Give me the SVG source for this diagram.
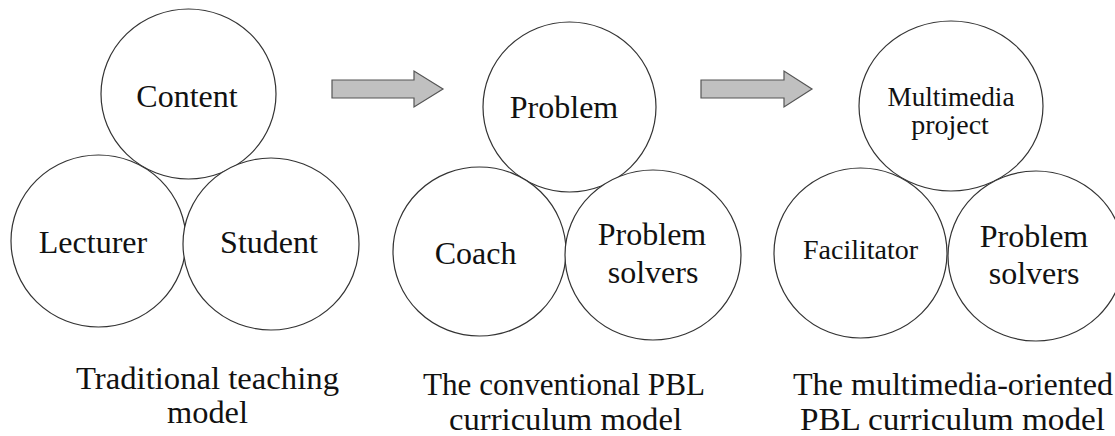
<svg xmlns="http://www.w3.org/2000/svg" width="1115" height="436" viewBox="0 0 1115 436">
<style>
.c{fill:#fff;stroke:#333;stroke-width:1.2}
.t{font-size:32px;fill:#111;text-anchor:middle}
.s{font-size:28px}
.l{font-size:31px;fill:#111}
.a{fill:#c0c0c0;stroke:#555;stroke-width:1.2}
</style>
<rect width="1115" height="436" fill="#fff"/>
<g id="connectors">
<path class="a" d="M332,80 H414 V71 L443,89 L414,107 V98 H332 Z"/>
<path class="a" d="M701,80 H784 V71 L812,89 L784,107 V98 H701 Z"/>
</g>
<g font-family="'Liberation Serif', 'Times New Roman', serif">
<g id="content"><ellipse class="c" cx="188.5" cy="94" rx="87.5" ry="85"/><text class="t" x="187" y="107">Content</text></g>
<g id="lecturer"><ellipse class="c" cx="98.5" cy="241" rx="87.5" ry="86"/><text class="t" x="93" y="253">Lecturer</text></g>
<g id="student"><ellipse class="c" cx="271" cy="244" rx="88" ry="86"/><text class="t" x="269" y="253">Student</text></g>
<g id="problem"><ellipse class="c" cx="569.5" cy="107" rx="86.5" ry="85"/><text class="t" x="564" y="118">Problem</text></g>
<g id="coach"><ellipse class="c" cx="479.5" cy="251.5" rx="86.5" ry="84.5"/><text class="t" x="475.5" y="264">Coach</text></g>
<g id="solvers2"><ellipse class="c" cx="653" cy="255" rx="88" ry="85"/><text class="t" x="652" y="245">Problem</text><text class="t" x="653" y="283">solvers</text></g>
<g id="multimedia"><ellipse class="c" cx="951" cy="106" rx="92" ry="85"/><text class="t s" x="951" y="106" textLength="127" lengthAdjust="spacingAndGlyphs">Multimedia</text><text class="t s" x="950" y="134">project</text></g>
<g id="facilitator"><ellipse class="c" cx="860.5" cy="253" rx="86.5" ry="85"/><text class="t s" x="860.5" y="259">Facilitator</text></g>
<g id="solvers3"><ellipse class="c" cx="1036" cy="256" rx="88" ry="85"/><text class="t" x="1034" y="247">Problem</text><text class="t" x="1034" y="284">solvers</text></g>
<g id="labels">
<text class="l" x="76" y="389" textLength="263" lengthAdjust="spacingAndGlyphs">Traditional teaching</text>
<text class="l" x="167" y="423" textLength="81" lengthAdjust="spacingAndGlyphs">model</text>
<text class="l" x="423" y="395" textLength="282" lengthAdjust="spacingAndGlyphs">The conventional PBL</text>
<text class="l" x="449" y="430" textLength="233" lengthAdjust="spacingAndGlyphs">curriculum model</text>
<text class="l" x="793" y="395" textLength="320" lengthAdjust="spacingAndGlyphs">The multimedia-oriented</text>
<text class="l" x="800" y="430" textLength="305" lengthAdjust="spacingAndGlyphs">PBL curriculum model</text>
</g>
</g>
</svg>
